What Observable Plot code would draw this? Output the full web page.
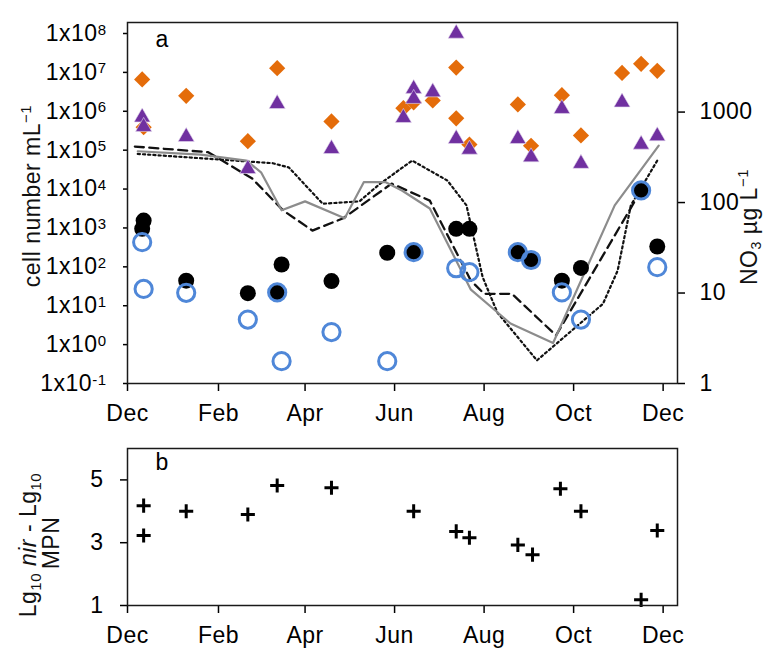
<!DOCTYPE html>
<html><head><meta charset="utf-8">
<script src="https://cdn.jsdelivr.net/npm/d3@7"></script>
<script src="https://cdn.jsdelivr.net/npm/@observablehq/plot@0.6"></script>
<style>
html,body{margin:0;padding:0;background:#fff;overflow:hidden;}
#wrap{position:relative;width:766px;height:650px;}
#wrap svg{position:absolute;left:0;}
#wrap svg text{letter-spacing:0.5px;}
</style></head><body><div id="wrap"></div>
<script>
// ---------- data ----------
const monthTicks = ["2012-12-01","2013-02-01","2013-04-01","2013-06-01","2013-08-01","2013-10-01","2013-12-01"];
const cellTicks = [1e-1,1e0,1e1,1e2,1e3,1e4,1e5,1e6,1e7,1e8];
const no3Ticks = [1,10,100,1000];
const ratioTicks = [1,3,5];

const diamondDates = ["2012-12-11","2012-12-12","2013-01-10","2013-02-21","2013-03-13","2013-04-19","2013-06-07","2013-06-14","2013-06-27","2013-07-13","2013-07-13","2013-07-22","2013-08-24","2013-09-02","2013-09-23","2013-10-06","2013-11-03","2013-11-16","2013-11-27"];
const diamondValues = [6.6e6,3.9e5,2.5e6,1.7e5,1.28e7,5.5e5,1.2e6,1.7e6,1.9e6,1.33e7,6.6e5,1.4e5,1.5e6,1.3e5,2.6e6,2.4e5,9.7e6,1.66e7,1.1e7];

const triangleDates = ["2012-12-11","2012-12-12","2013-01-10","2013-02-21","2013-03-13","2013-04-19","2013-06-07","2013-06-14","2013-06-14","2013-06-27","2013-07-13","2013-07-13","2013-07-22","2013-08-24","2013-09-02","2013-09-23","2013-10-06","2013-11-03","2013-11-16","2013-11-27"];
const triangleValues = [7e5,4e5,2.2e5,3.3e4,1.55e6,1.08e5,6.8e5,3.8e6,2.1e6,3.1e6,1.0e8,1.96e5,1.04e5,1.96e5,6.6e4,1.16e6,4.5e4,1.7e6,1.4e5,2.3e5];

const blackDates = ["2012-12-11","2012-12-12","2013-01-10","2013-02-21","2013-03-13","2013-03-16","2013-04-19","2013-05-27","2013-06-14","2013-07-13","2013-07-22","2013-08-24","2013-09-02","2013-09-23","2013-10-06","2013-11-16","2013-11-27"];
const blackValues = [950,1550,44,21,22,115,43,230,238,950,950,238,150,44,94,9200,333];

const blueDates = ["2012-12-11","2012-12-12","2013-01-10","2013-02-21","2013-03-13","2013-03-16","2013-04-19","2013-05-27","2013-06-14","2013-07-13","2013-07-22","2013-08-24","2013-09-02","2013-09-23","2013-10-06","2013-11-16","2013-11-27"];
const blueValues = [430,27,21.5,4.4,22,0.375,2.1,0.375,238,92,73,238,150,22,4.4,9200,98];

const no3SolidDates = ["2012-12-08","2013-01-20","2013-02-20","2013-03-02","2013-03-16","2013-04-01","2013-04-28","2013-05-11","2013-05-26","2013-06-06","2013-06-25","2013-07-23","2013-08-19","2013-09-17","2013-10-29","2013-11-28"];
const no3SolidValues = [369,339,291,216,82,103,67,168,168,136,86,10.9,4.6,2.8,93,426];

const no3DashedDates = ["2012-12-06","2013-01-25","2013-02-24","2013-03-17","2013-04-06","2013-04-27","2013-05-30","2013-06-25","2013-07-23","2013-08-01","2013-08-20","2013-09-19","2013-11-16"];
const no3DashedValues = [416,360,184,82,49,67,162,105,13.7,9.8,9.8,3.4,136];

const no3DottedDates = ["2012-12-08","2013-03-10","2013-03-21","2013-04-13","2013-05-08","2013-05-22","2013-06-13","2013-07-07","2013-07-20","2013-07-31","2013-08-10","2013-09-06","2013-10-21","2013-10-31","2013-11-09","2013-11-27"];
const no3DottedValues = [345,272,244,97,103,161,291,175,93,15,6.1,1.8,7.6,17.7,93,291];

const ratioDates = ["2012-12-12","2012-12-12","2013-01-10","2013-02-21","2013-03-13","2013-04-19","2013-06-14","2013-07-13","2013-07-22","2013-08-24","2013-09-03","2013-09-22","2013-10-06","2013-11-16","2013-11-27"];
const ratioValues = [4.18,3.23,4.0,3.9,4.82,4.75,4.0,3.36,3.16,2.93,2.62,4.72,4.0,1.18,3.39];

// ---------- build ----------
const parse = d3.utcParse("%Y-%m-%d");
const tbl = (dates, values) => dates.map((d, i) => ({date: parse(d), value: values[i]}));
const FONT = '"Liberation Sans", Arial, sans-serif';
const FS = 23;
const ORANGE = "#E46C0A", PURPLE = "#7030A0", BLUE = "#4F87D8";
const W = 766;
const xDomain = [parse("2012-12-01"), new Date(Date.UTC(2013, 11, 10, 19))];
const mTicks = monthTicks.map(parse);
const fmtMonth = d3.utcFormat("%b");
const M = {marginLeft: 127, marginRight: 89};

const wrap = document.getElementById("wrap");

// NO3 lines + right axis (underneath)
const linesPlot = Plot.plot({
  width: W, height: 430, ...M, marginTop: 22, marginBottom: 47,
  style: {background: "transparent", fontFamily: FONT, overflow: "visible"},
  x: {type: "utc", domain: xDomain, axis: null},
  y: {type: "log", domain: [1, 10 ** 3.99]},
  marks: [
    Plot.line(tbl(no3DottedDates, no3DottedValues), {x: "date", y: "value", stroke: "#111", strokeWidth: 2.2, strokeDasharray: "2.2,3"}),
    Plot.line(tbl(no3DashedDates, no3DashedValues), {x: "date", y: "value", stroke: "#111", strokeWidth: 2.3, strokeDasharray: "9,5.5"}),
    Plot.line(tbl(no3SolidDates, no3SolidValues), {x: "date", y: "value", stroke: "#8c8c8c", strokeWidth: 2.2}),
    Plot.axisY(no3Ticks, {anchor: "right", tickSize: 7, tickPadding: 15, fontSize: FS, tickFormat: d => String(d), label: null, strokeWidth: 1.5})
  ]
});
linesPlot.style.top = "0px";
wrap.appendChild(linesPlot);

// main top panel
const topPlot = Plot.plot({
  width: W, height: 430, ...M, marginTop: 22, marginBottom: 47,
  style: {background: "transparent", fontFamily: FONT, overflow: "visible"},
  x: {type: "utc", domain: xDomain},
  y: {type: "log", domain: [0.1, 10 ** 8.283]},
  marks: [
    Plot.axisX(mTicks, {tickSize: 8, tickPadding: 13, tickFormat: fmtMonth, fontSize: FS, label: null, strokeWidth: 1.5}),
    Plot.axisY(cellTicks, {anchor: "left", tickSize: 4, tickPadding: 17, fontSize: FS, label: null, strokeWidth: 1.5,
      tickFormat: d => "1x10^" + Math.round(Math.log10(d))}),
    Plot.dot(tbl(diamondDates, diamondValues), {x: "date", y: "value", symbol: "diamond2", r: 7.3, fill: ORANGE}),
    Plot.dot(tbl(triangleDates, triangleValues), {x: "date", y: "value", symbol: "triangle", r: 6, fill: PURPLE, stroke: "#e6dcf0", strokeWidth: 0.6}),
    Plot.dot(tbl(blackDates, blackValues), {x: "date", y: "value", r: 8, fill: "#000"}),
    Plot.dot(tbl(blueDates, blueValues), {x: "date", y: "value", r: 8.6, fill: "none", stroke: BLUE, strokeWidth: 3}),
    Plot.frame({stroke: "#1a1a1a", strokeWidth: 1.5}),
    Plot.text(["a"], {frameAnchor: "top-left", dx: 28, dy: 8, fontSize: FS, textAnchor: "start", lineAnchor: "top"})
  ]
});
topPlot.style.top = "0px";
wrap.appendChild(topPlot);

// superscripts for the log tick labels
topPlot.querySelectorAll("text").forEach(t => {
  const s = t.textContent;
  if (s.includes("^")) {
    const [base, exp] = s.split("^");
    t.textContent = base;
    const ts = document.createElementNS("http://www.w3.org/2000/svg", "tspan");
    ts.setAttribute("dy", "-0.42em");
    ts.setAttribute("font-size", "15");
    ts.textContent = exp;
    t.appendChild(ts);
  }
});

// axis titles (top)
const sTop = d3.select(topPlot);
const t1 = sTop.append("text").attr("transform", "translate(40,196) rotate(-90)").attr("text-anchor", "middle").attr("font-size", FS).attr("fill", "#111");
t1.append("tspan").text("cell number mL");
t1.append("tspan").attr("dy", -9).attr("font-size", 15).text("−1");
const t2 = sTop.append("text").attr("transform", "translate(757,227) rotate(-90)").attr("text-anchor", "middle").attr("font-size", FS).attr("fill", "#111");
t2.append("tspan").text("NO");
t2.append("tspan").attr("dy", 4).attr("font-size", 14).text("3");
t2.append("tspan").attr("dy", -4).text(" µg L");
t2.append("tspan").attr("dy", -9).attr("font-size", 15).text("−1");

// bottom panel
const botPlot = Plot.plot({
  width: W, height: 220, ...M, marginTop: 18, marginBottom: 45,
  style: {background: "transparent", fontFamily: FONT, overflow: "visible"},
  x: {type: "utc", domain: xDomain},
  y: {domain: [1, 6]},
  marks: [
    Plot.axisX(mTicks, {tickSize: 8, tickPadding: 13, tickFormat: fmtMonth, fontSize: FS, label: null, strokeWidth: 1.5}),
    Plot.axisY(ratioTicks, {anchor: "left", tickSize: 7, tickPadding: 17, fontSize: FS, label: null, strokeWidth: 1.5}),
    Plot.dot(tbl(ratioDates, ratioValues), {x: "date", y: "value", symbol: "plus", r: 4.6, stroke: "#000", strokeWidth: 3}),
    Plot.frame({stroke: "#1a1a1a", strokeWidth: 1.5}),
    Plot.text(["b"], {frameAnchor: "top-left", dx: 28, dy: 5, fontSize: FS, textAnchor: "start", lineAnchor: "top"})
  ]
});
botPlot.style.top = "430px";
wrap.appendChild(botPlot);

const sBot = d3.select(botPlot);
const b1 = sBot.append("text").attr("transform", "translate(36,115) rotate(-90)").attr("text-anchor", "middle").attr("font-size", FS).attr("fill", "#111");
b1.append("tspan").text("Lg");
b1.append("tspan").attr("dy", 5).attr("font-size", 15).text("10");
b1.append("tspan").attr("dy", -5).text(" ");
b1.append("tspan").attr("font-style", "italic").text("nir");
b1.append("tspan").text(" - Lg");
b1.append("tspan").attr("dy", 5).attr("font-size", 15).text("10");
const b2 = sBot.append("text").attr("transform", "translate(59,113) rotate(-90)").attr("text-anchor", "middle").attr("font-size", FS).attr("fill", "#111");
b2.text("MPN");
</script>
</body></html>
